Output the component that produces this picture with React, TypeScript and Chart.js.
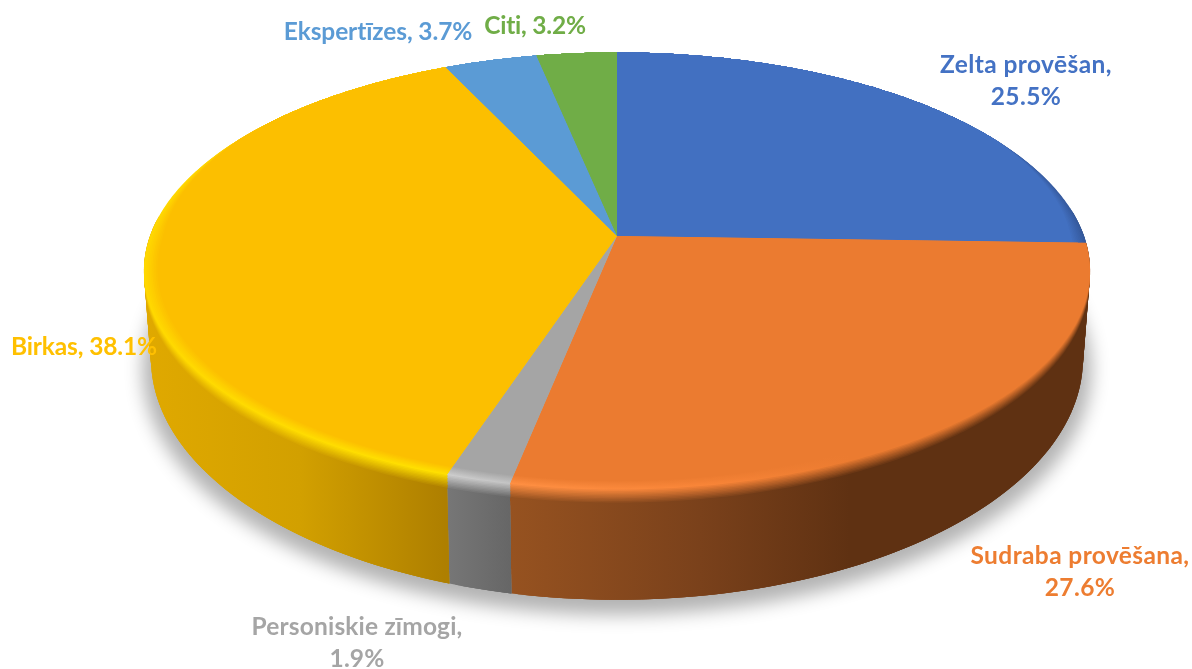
import React, { useEffect, useRef } from "react";
import { Chart, registerables } from "chart.js";

Chart.register(...registerables);

const categories = ["Zelta provēšan", "Sudraba provēšana", "Personiskie zīmogi", "Birkas", "Ekspertīzes", "Citi"];
const shares = [25.5, 27.6, 1.9, 38.1, 3.7, 3.2];
const faceColors = ["#4270C1", "#EB7B30", "#A5A5A5", "#FCBF00", "#5B9BD5", "#70AD47"];
const labelColors = ["#4472C4", "#ED7D31", "#A5A5A5", "#FFC000", "#5B9BD5", "#70AD47"];
const labelBreaks = [true, true, true, false, false, false];

// label centres on the page (two-line labels: first line), and the widths of their first lines
const labelAnchors = [
  [1026, 65],
  [1080, 556],
  [357, 627],
  [84, 347],
  [378, 32],
  [535, 26],
];
const labelWidths = [172, 219, 211, 146, 189, 102];

// colour ramps across the pie, left to right
const rampX = [142, 300, 445, 512, 700, 850, 1092];
const wallRamps = [
  ["#2f4f8a", "#2f4f8a", "#2f4f8a", "#2f4f8a", "#2f4f8a", "#2f4f8a", "#2f4f8a"],
  ["#9b5522", "#9b5522", "#9b5522", "#965220", "#7a411b", "#5f3112", "#5f3112"],
  ["#777777", "#777777", "#777777", "#666666", "#666666", "#666666", "#666666"],
  ["#e0a900", "#d2a000", "#ae7f00", "#ae7f00", "#ae7f00", "#ae7f00", "#ae7f00"],
  ["#3d6c99", "#3d6c99", "#3d6c99", "#3d6c99", "#3d6c99", "#3d6c99", "#3d6c99"],
  ["#4f7a32", "#4f7a32", "#4f7a32", "#4f7a32", "#4f7a32", "#4f7a32", "#4f7a32"],
];
const rimRamps = [
  ["#3a62aa", "#3a62aa", "#3a62aa", "#3a62aa", "#3f6abb", "#3f6abb", "#34589a"],
  ["#ff8f42", "#ff8f42", "#ff8f42", "#ff8f42", "#f98538", "#EB7B30", "#EB7B30"],
  ["#cdcdcd", "#cdcdcd", "#cdcdcd", "#c4c4c4", "#c4c4c4", "#c4c4c4", "#c4c4c4"],
  ["#ffd800", "#ffdc00", "#ffe000", "#ffe000", "#ffe000", "#ffe000", "#ffe000"],
  ["#5B9BD5", "#5B9BD5", "#5B9BD5", "#5B9BD5", "#5B9BD5", "#5B9BD5", "#5B9BD5"],
  ["#70AD47", "#70AD47", "#70AD47", "#70AD47", "#70AD47", "#70AD47", "#70AD47"],
];

// perspective view of the disc: upper face and lower face
const CX = 617;
const TILT = 0.16;
const upper = { cy: 236, rx: 467, ry: 213 };
const lower = { cy: 320, rx: 460, ry: 235 };
const RIM_DEPTH = 0.13;
const RIM_INSET = 0.028;
const FONT = 'bold 24.5px Lato, "Open Sans", sans-serif';

const hex = (c: string) => [1, 3, 5].map((i) => parseInt(c.slice(i, i + 2), 16));
const mix = (a: string, b: string, t: number) => {
  const p = hex(a);
  const q = hex(b);
  return "#" + p.map((v, i) => Math.round(v + (q[i] - v) * t).toString(16).padStart(2, "0")).join("");
};

function project(a: number, inset: number, depth: number) {
  const cos = Math.cos(a);
  const sin = Math.sin(a);
  const front = Math.min(1, Math.max(0, (sin + 0.5) / 0.5));
  const r = 1 - inset * front;
  const u = r * cos;
  const v = r * sin;
  const w = 1 - TILT * v;
  const d = depth * Math.min(1, Math.max(0, (sin + 0.6) / 0.6));
  const cy = upper.cy + (lower.cy - upper.cy) * d;
  const rx = upper.rx + (lower.rx - upper.rx) * d;
  const ry = upper.ry + (lower.ry - upper.ry) * d;
  return [CX + (rx * u) / w, cy + (ry * v) / w];
}

function rawProject(a: number, scale: number, view: { cy: number; rx: number; ry: number }) {
  const v = Math.sin(a);
  const w = 1 - TILT * v;
  return [CX + (view.rx * scale * Math.cos(a)) / w, view.cy + (view.ry * scale * v) / w];
}

function arcSteps(start: number, end: number) {
  const n = Math.max(2, Math.ceil((end - start) / 0.012));
  return Array.from({ length: n + 1 }, (_, i) => start + ((end - start) * i) / n);
}

function rampGradient(ctx: CanvasRenderingContext2D, colors: string[]) {
  const first = rampX[0];
  const span = rampX[rampX.length - 1] - first;
  const g = ctx.createLinearGradient(first, 0, first + span, 0);
  rampX.forEach((x, i) => g.addColorStop((x - first) / span, colors[i]));
  return g;
}

const pie3d = {
  id: "pie3d",
  beforeDatasetDraw(chart: any) {
    const ctx: CanvasRenderingContext2D = chart.ctx;
    const arcs = chart.getDatasetMeta(0).data;

    // soft shadow on the ground: the caster sits off the canvas, only its shadow lands here
    ctx.save();
    const away = 3000;
    ctx.shadowColor = "rgba(0,0,0,0.30)";
    ctx.shadowBlur = 18;
    ctx.shadowOffsetX = away;
    ctx.shadowOffsetY = 10;
    ctx.fillStyle = "#000";
    ctx.beginPath();
    arcSteps(0, Math.PI * 2).forEach((a, i) => {
      const [x, y] = rawProject(a, 1.018, lower);
      i ? ctx.lineTo(x - away, y) : ctx.moveTo(x - away, y);
    });
    ctx.closePath();
    ctx.fill();
    ctx.restore();

    // side walls, built from overlapping quads between the upper and lower rims
    arcs.forEach((arc: any, i: number) => {
      const g = rampGradient(ctx, wallRamps[i]);
      ctx.fillStyle = g;
      arcSteps(arc.startAngle, arc.endAngle).forEach((a, k, all) => {
        if (k === 0 || Math.sin(a) < -0.1) return;
        const back = all[Math.max(0, k - 3)];
        const p0 = rawProject(back, 1, upper);
        const p1 = rawProject(a, 1, upper);
        const q1 = rawProject(a, 1, lower);
        const q0 = rawProject(back, 1, lower);
        ctx.beginPath();
        ctx.moveTo(p0[0], p0[1]);
        ctx.lineTo(p1[0], p1[1]);
        ctx.lineTo(q1[0], q1[1]);
        ctx.lineTo(q0[0], q0[1]);
        ctx.closePath();
        ctx.fill();
      });
    });

    // bevelled rim and the flat top
    const wallLayers = 10;
    const rimLayers = 8;
    const paint = (inset: number, depth: number, colorsFor: (i: number) => string[]) => {
      arcs.forEach((arc: any, i: number) => {
        ctx.beginPath();
        ctx.moveTo(CX, upper.cy + (lower.cy - upper.cy) * depth * 0.3);
        arcSteps(arc.startAngle, arc.endAngle).forEach((a) => {
          const [x, y] = project(a, inset, depth);
          ctx.lineTo(x, y);
        });
        ctx.closePath();
        ctx.fillStyle = rampGradient(ctx, colorsFor(i));
        ctx.fill();
      });
    };
    for (let l = 0; l <= wallLayers; l++) {
      const t = l / wallLayers;
      paint(0, RIM_DEPTH * (1 - t), (i) => wallRamps[i].map((c, k) => mix(c, rimRamps[i][k], t)));
    }
    for (let l = 1; l <= rimLayers; l++) {
      const t = l / rimLayers;
      paint(RIM_INSET * t, 0, (i) => rimRamps[i].map((c) => mix(c, faceColors[i], t)));
    }
    return false;
  },
  afterDatasetsDraw(chart: any) {
    const ctx: CanvasRenderingContext2D = chart.ctx;
    ctx.save();
    ctx.textAlign = "center";
    ctx.textBaseline = "middle";
    categories.forEach((name, i) => {
      const [x, y] = labelAnchors[i];
      const value = `${shares[i].toFixed(1)}%`;
      const first = labelBreaks[i] ? `${name},` : `${name}, ${value}`;
      ctx.font = FONT;
      (ctx as any).letterSpacing = "0px";
      const spare = labelWidths[i] - ctx.measureText(first).width;
      (ctx as any).letterSpacing = `${spare / first.length}px`;
      ctx.fillStyle = labelColors[i];
      ctx.fillText(first, x, y);
      if (labelBreaks[i]) ctx.fillText(value, x, y + 32);
    });
    ctx.restore();
  },
};

export default function App() {
  const ref = useRef<HTMLCanvasElement>(null);
  useEffect(() => {
    document.body.style.margin = "0";
    const chart = new Chart(ref.current!, {
      type: "pie",
      data: {
        labels: categories,
        datasets: [{ data: shares, backgroundColor: faceColors, borderWidth: 0 }],
      },
      options: {
        responsive: false,
        animation: false,
        devicePixelRatio: 1,
        plugins: { legend: { display: false }, tooltip: { enabled: false } },
      },
      plugins: [pie3d],
    } as any);
    return () => chart.destroy();
  }, []);
  return <canvas ref={ref} width={1192} height={669} style={{ display: "block", background: "#fff" }} />;
}
